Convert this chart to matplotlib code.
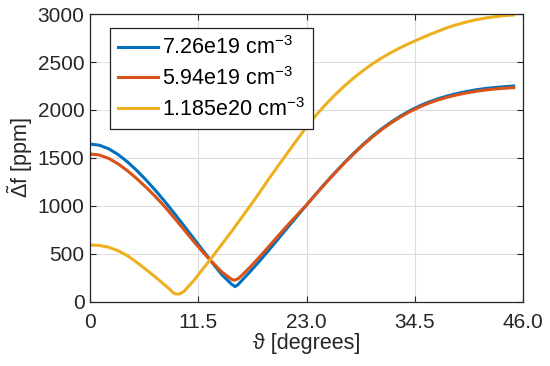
import numpy as np
import matplotlib
matplotlib.use("Agg")
import matplotlib.pyplot as plt

plt.rcParams['font.family'] = ['Liberation Sans', 'DejaVu Sans']
plt.rcParams['mathtext.fontset'] = 'custom'
plt.rcParams['mathtext.rm'] = 'Liberation Sans'
plt.rcParams['mathtext.it'] = 'Liberation Sans:italic'

# angle in degrees, df in ppm
theta_blue = [0, 1, 2, 3, 4, 5, 6, 7, 8, 9, 10, 11, 12, 13, 14, 15, 15.4,
              15.7, 16, 17, 18, 19, 20, 21, 22, 23, 24, 25, 26, 27, 28, 29,
              30, 31, 32, 33, 34, 35, 36, 37, 38, 39, 40, 41, 42, 43, 44, 45]
df_blue = [1645, 1633, 1595, 1535, 1458, 1367, 1266, 1157, 1041, 918, 792,
           664, 536, 408, 285, 188, 160, 178, 210, 315, 425, 540, 658, 776,
           893, 1010, 1125, 1237, 1345, 1449, 1548, 1641, 1727, 1805, 1875,
           1938, 1994, 2042, 2083, 2118, 2147, 2172, 2193, 2210, 2224, 2234,
           2243, 2250]

theta_orange = [0, 1, 2, 3, 4, 5, 6, 7, 8, 9, 10, 11, 12, 13, 14, 15, 15.3,
                15.7, 16, 17, 18, 19, 20, 21, 22, 23, 24, 25, 26, 27, 28, 29,
                30, 31, 32, 33, 34, 35, 36, 37, 38, 39, 40, 41, 42, 43, 44, 45]
df_orange = [1542, 1531, 1495, 1438, 1366, 1282, 1191, 1093, 986, 870, 752,
             632, 518, 413, 312, 238, 226, 240, 265, 362, 467, 578, 690, 800,
             906, 1010, 1123, 1234, 1341, 1444, 1542, 1634, 1719, 1797, 1866,
             1928, 1984, 2031, 2072, 2106, 2134, 2158, 2178, 2195, 2208, 2219,
             2227, 2233]

theta_yellow = [0, 1, 2, 3, 4, 5, 6, 7, 8, 8.5, 8.8, 9.0, 9.3, 9.6, 10, 11,
                12, 13, 14, 15, 16, 17, 18, 19, 20, 21, 22, 23, 24, 25, 26, 27,
                28, 29, 30, 31, 32, 33, 34, 35, 36, 37, 38, 39, 40, 41, 42, 43,
                44, 45]
df_yellow = [594, 589, 570, 533, 481, 410, 335, 255, 172, 130, 100, 86, 82,
             88, 112, 220, 345, 470, 600, 730, 864, 1000, 1138, 1283, 1420,
             1556, 1691, 1826, 1944, 2054, 2155, 2248, 2333, 2410, 2480, 2543,
             2600, 2651, 2697, 2741, 2782, 2822, 2860, 2890, 2917, 2940, 2958,
             2972, 2983, 2990]

labels = ['7.26e19 cm$^{-3}$', '5.94e19 cm$^{-3}$', '1.185e20 cm$^{-3}$']
xticks = [0, 11.5, 23.0, 34.5, 46.0]
xtick_labels = ['0', '11.5', '23.0', '34.5', '46.0']
yticks = [0, 500, 1000, 1500, 2000, 2500, 3000]

fig = plt.figure(figsize=(5.5, 3.66), dpi=100)
ax = fig.add_axes([0.1636, 0.175, 0.7874, 0.7867])

ax.plot(theta_blue, df_blue, color='#0072BD', lw=2.2, label=labels[0])
ax.plot(theta_orange, df_orange, color='#D95319', lw=2.2, label=labels[1])
ax.plot(theta_yellow, df_yellow, color='#EDB120', lw=2.2, label=labels[2])

ax.set_xlim(0, 46)
ax.set_ylim(0, 3000)
ax.set_xticks(xticks)
ax.set_xticklabels(xtick_labels)
ax.set_yticks(yticks)
ax.grid(True, color='#dcdcdc', lw=0.8)
ax.set_axisbelow(True)
ax.tick_params(direction='in', top=True, right=True, length=4,
               labelsize=15, colors='#262626')
ax.tick_params(axis='x', pad=8)
ax.tick_params(axis='y', pad=4)
for s in ax.spines.values():
    s.set_color('#262626')
    s.set_linewidth(0.9)

ax.set_xlabel('ϑ [degrees]', fontsize=15.5, color='#262626', labelpad=1)
ax.set_ylabel(r'$\tilde{\Delta}$f [ppm]', fontsize=15.5, color='#262626',
              labelpad=2)

leg = ax.legend(loc='upper left', bbox_to_anchor=(0.046, 0.951),
                fontsize=15.5, frameon=True, fancybox=False,
                edgecolor='#262626', handlelength=1.85, handletextpad=0.2,
                borderpad=0.38, labelspacing=0.36, borderaxespad=0)
leg.get_frame().set_linewidth(0.9)
leg.get_frame().set_alpha(1)

fig.savefig('out.png', dpi=100)
